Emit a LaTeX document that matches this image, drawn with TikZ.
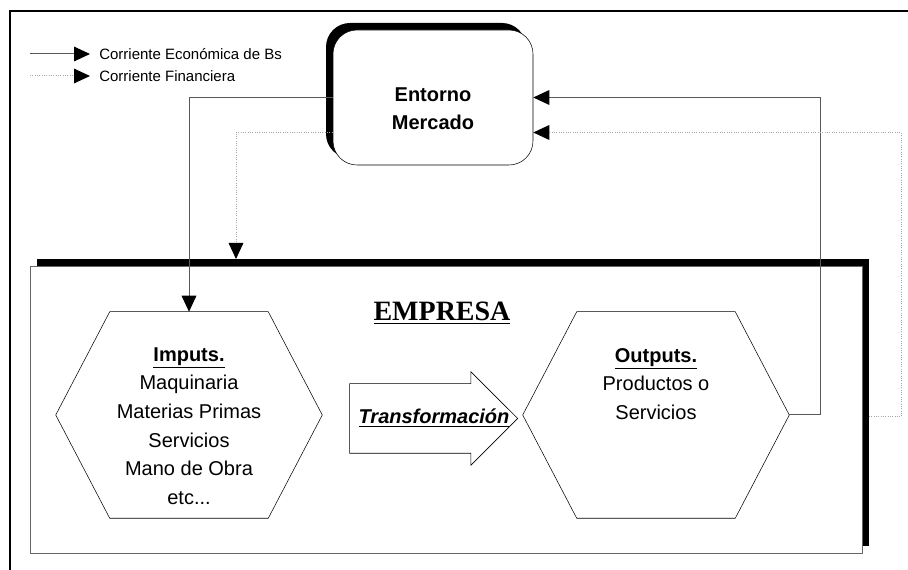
\documentclass[tikz,border=0pt]{standalone}
\usepackage{fontspec}
\setmainfont{Liberation Sans}
\newfontfamily\titlefont{Liberation Serif}
\usetikzlibrary{arrows.meta,shapes.arrows,shadows,calc}

\tikzset{
  eco/.style={draw=black!65, line width=0.75pt, -{Triangle[length=12pt,width=11pt,color=black]}},
  fin/.style={draw=black!35, line width=0.75pt, densely dotted, -{Triangle[length=12pt,width=11pt,color=black]}},
  hexa/.style={draw=none, inner sep=0pt, minimum width=199.5pt, minimum height=154.5pt},
  bigtext/.style={align=center, font=\fontsize{15}{21.4}\selectfont},
  legtext/.style={anchor=west, inner xsep=6.75pt, inner ysep=0pt, font=\fontsize{11.25}{13}\selectfont},
}

\begin{document}
\begin{tikzpicture}[x=0.75pt, y=-0.75pt]
    \useasboundingbox (0,0) rectangle (908,570);
    % frame
    \draw[line width=1.5pt] (10,580) -- (10,11) -- (920,11);
    % legend
    \coordinate (legeco) at (30,54);
    \coordinate (legfin) at (30,76);
    \node [legtext] at (90,54) (ecotext) {Corriente Económica de Bs};
    \node [legtext] at (90,76) (fintext) {Corriente Financiera};
    \path [eco] (legeco) -- (ecotext.west);
    \path [fin] (legfin) -- (fintext.west);
    % market
    \node [draw, fill=white, rounded corners=18pt, inner sep=0pt, minimum width=150pt, minimum height=101.25pt,
           general shadow={shadow xshift=-5.25pt, shadow yshift=5.25pt, fill=black}] at (433,97.5) (entorno) {};
    \node [align=center, font=\bfseries\fontsize{15}{21}\selectfont] at (433,109) (entornotext) {Entorno\\Mercado};
    % company
    \node [draw=black!60, fill=white, inner sep=0pt, minimum width=624pt, minimum height=215.25pt,
           general shadow={shadow xshift=5.25pt, shadow yshift=5.25pt, fill=black}] at (446,409.5) (empresa) {};
    \node [font=\titlefont\bfseries\fontsize{21}{24}\selectfont] at (442,313) (title) {\underline{EMPRESA}};
    \node [hexa] at (189,415) (imputs) {};
    \node [hexa] at (656,415) (outputs) {};
    \foreach \h in {imputs,outputs}
        \draw (\h.west) -- ([xshift=40.5pt]\h.north west) -- ([xshift=-40.5pt]\h.north east)
              -- (\h.east) -- ([xshift=-40.5pt]\h.south east) -- ([xshift=40.5pt]\h.south west) -- cycle;
    \node [bigtext] at (189,426) (imputstext) {\textbf{\underline{Imputs.}}\\Maquinaria\\Materias Primas\\Servicios\\Mano de Obra\\etc...};
    \node [bigtext] at (656,384) (outputstext) {\textbf{\underline{Outputs.}}\\Productos o\\Servicios};
    \node [single arrow, draw, fill=white, inner xsep=0pt, inner ysep=25.875pt, minimum height=126pt,
           single arrow head extend=9pt, anchor=tip] at (518,418.5) (transf) {};
    \node [font=\bfseries\itshape\fontsize{15}{18}\selectfont] at (434,418) (transftext) {\underline{Transformación}};
    % flows
    \coordinate (finin) at (236,259);
    \coordinate (finout) at (869,417);
    \path [eco] (entorno.west) -| (imputs.north);
    \path [eco] (outputs.east) -- ++(31,0) |- (entorno.east);
    \path [fin] ($(entorno.west)+(0,35)$) -| (finin);
    \path [fin] (finout) -- ++(32,0) |- ($(entorno.east)+(0,35)$);
\end{tikzpicture}
\end{document}
